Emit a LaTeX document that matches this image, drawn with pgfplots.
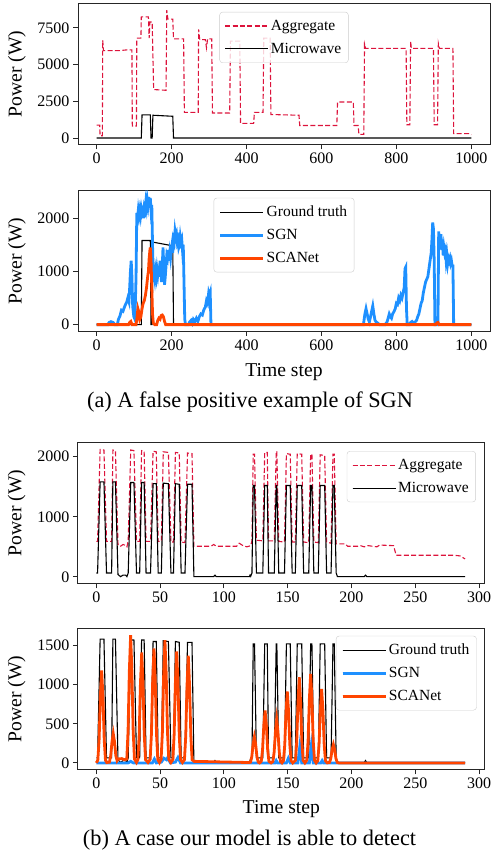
\documentclass[border=0pt]{standalone}
\usepackage{fontspec}
\setmainfont{Liberation Serif}
\usepackage{pgfplots}
\pgfplotsset{compat=1.18}
\usepackage{pgfplotstable}

\definecolor{crimson}{HTML}{DC143C}
\definecolor{dodger}{HTML}{1E90FF}
\definecolor{orangered}{HTML}{FF4500}

\pgfplotsset{
  base/.style={
    scale only axis, anchor=south west,
    tick align=outside, xtick pos=bottom, ytick pos=left,
    major tick length=5pt,
    every tick/.style={black!85, line width=0.9pt},
    axis line style={black!85, line width=0.9pt},
    tick label style={font=\fontsize{16}{19}\selectfont},
    xticklabel={\pgfmathprintnumber[assume math mode=true]{\tick}},
    yticklabel={\pgfmathprintnumber[assume math mode=true]{\tick}},
    label style={font=\fontsize{19.6}{23}\selectfont},
    /pgf/number format/assume math mode=true,
    /pgf/number format/1000 sep={},
    scaled ticks=false,
    legend style={font=\fontsize{15.5}{18}\selectfont, draw=black!20, rounded corners=3pt,
      fill=white, fill opacity=0.8, text opacity=1, draw opacity=1,
      inner xsep=5pt, inner ysep=6pt, row sep=7.2pt,
      nodes={inner sep=2pt}},
    legend cell align=left,
    legend image code/.code={\draw[#1] (0pt,0pt) -- (33pt,0pt); \path (0pt,0pt) -- (43pt,0pt);},
    ylabel={Power (W)},
  },
  aggst/.style={crimson, line width=1.1pt, dash pattern=on 5pt off 2.4pt},
  blkst/.style={black, line width=1.1pt},
  sgnst/.style={dodger, line width=2.8pt},
  scast/.style={orangered, line width=2.8pt},
}

% ---------- panel (a) ----------
\pgfplotstableread{
t p
0 880
8 880
9 150
15 150
16 6650
18 5950
60 5950
80 6000
94 6000
95 820
106 820
107 6800
118 6800
119 8250
138 8250
140 6800
142 7900
148 7900
152 3300
185 3250
187 8700
190 8100
203 8100
205 6750
232 6750
234 1750
271 1750
272 7400
275 6700
290 6700
293 6150
296 6750
307 6750
309 1700
355 1700
357 6600
382 6600
384 1000
419 1000
421 1750
444 1750
446 6800
463 6800
465 1600
540 1550
542 850
641 850
643 2450
685 2450
687 850
698 850
700 250
713 250
715 6400
718 6100
826 6100
828 900
836 900
838 6600
840 6100
899 6100
901 900
910 900
912 6450
915 6100
951 6100
953 300
995 300
1000 220
}\aggA

\pgfplotstableread{
t p
0 0
119 0
121 1580
143 1580
145 0
148 0
150 1550
203 1480
205 0
1000 0
}\micA

\pgfplotstableread{
t p
0 0
30 0
33 40
38 55
44 40
48 0
55 0
58 100
62 160
66 270
70 250
74 330
77 380
80 420
83 500
86 430
88 700
90 1000
92 1200
94 900
96 350
99 150
102 100
105 900
107 2100
109 2000
111 2150
113 2050
115 2150
117 2050
119 2180
121 2100
123 2150
125 2000
127 2200
129 2150
131 2300
133 2200
135 2350
137 2250
139 2400
141 2200
143 2380
145 2150
147 2250
149 1500
151 900
153 950
155 850
157 1000
159 900
161 1050
163 950
165 1100
167 900
169 1200
171 1000
173 800
175 1100
177 1450
179 1100
181 750
183 900
185 1100
187 1300
189 1250
191 1400
193 1200
195 1350
197 1250
199 1400
201 1500
203 1350
205 1600
207 1550
209 1750
211 1650
213 1700
215 1550
217 1600
219 1450
221 1500
223 1650
225 1550
227 1600
229 1400
231 1500
233 800
235 100
237 0
245 0
248 50
252 80
255 30
258 100
262 60
266 120
270 60
274 150
278 200
282 180
286 280
290 330
293 450
296 400
299 600
301 550
303 600
305 0
712 0
716 200
719 300
722 200
725 100
728 50
731 150
734 250
737 350
740 200
743 80
746 50
750 30
755 0
770 0
775 50
778 120
781 200
784 150
787 120
790 200
794 250
797 300
800 400
803 380
806 500
809 450
812 550
815 500
818 600
821 700
823 1050
825 1080
827 300
829 0
835 0
838 40
842 60
846 30
850 50
854 80
857 150
860 200
863 300
866 400
869 450
872 600
875 700
878 800
881 850
884 900
887 1050
890 1200
893 1350
895 1600
897 1920
899 1800
901 1200
903 0
911 0
913 1750
915 1500
917 1600
919 1700
921 1400
923 1600
925 1300
927 1450
929 1350
931 1400
933 1200
935 1300
937 1150
939 1250
941 1200
943 1250
945 1150
947 1200
949 1100
951 1100
953 0
1000 0
}\sgnA

\pgfplotstableread{
t p
0 0
85 0
88 40
91 60
94 0
105 0
107 100
110 300
112 250
115 100
118 150
121 300
124 400
127 450
130 550
133 700
136 900
138 1000
140 1250
142 1400
143 1450
145 1200
147 700
149 200
151 30
155 0
160 0
163 80
166 120
169 100
172 170
175 180
178 150
181 60
184 0
905 0
908 30
911 40
914 0
1000 0
}\scaA

% ---------- panel (b) ----------
\pgfplotstableread{
t p
0 65
1 65
3 1580
6 1580
8 65
12 65
13 1580
15 1580
17 40
19 5
21 30
23 30
24 5
25 65
27 1570
29.5 1570
31.5 65
34 65
35.5 1570
37.5 1570
39 65
42.5 65
44.5 1550
47 1550
48.5 65
51 65
52.5 1560
56.5 1550
58.5 65
60.5 65
62 1550
65 1540
66.5 65
69.5 65
71.5 1540
75 1540
76.5 5
92 5
93 30
94 5
120 5
120.5 30
121 10
122 65
123 1520
124 1520
125.5 65
130.5 65
132 1520
134 1520
135 65
139.5 65
141 1520
141.5 1520
143 65
147.5 65
149 1520
152 1520
153.5 65
156 65
157.5 1520
161 1520
162.5 65
166.5 65
168 1520
169 1520
170.5 65
174 65
175.5 1520
179 1520
180.5 65
184 65
185.5 1520
186.5 1520
188 65
189 5
210 5
211 30
212 5
289 5
}\micB

\pgfplotstableread{
t p
0 590
1 590
3 2120
6 2110
8 590
12 590
13 2110
15 2100
17 540
19 510
21 540
23 520
24 500
25 600
27 2110
29.5 2100
31.5 590
34 590
35.5 2100
37.5 2090
39 590
42.5 590
44.5 2090
47 2080
48.5 590
51 590
52.5 2080
56.5 2070
58.5 580
60.5 580
62 2070
65 2060
66.5 580
69.5 570
71.5 2060
75 2050
76.5 510
90 510
92 540
94 510
110 510
112 560
115 520
118 500
121 520
122 600
123 2040
124 2040
125.5 610
130.5 600
132 2070
134 2070
135 600
139.5 600
141 2090
141.5 2080
143 590
147.5 580
149 2050
152 2040
153.5 580
156 580
157.5 2050
161 2040
162.5 580
166.5 570
168 2040
169 2040
170.5 580
174 570
175.5 2030
179 2020
180.5 580
184 560
185.5 2040
186.5 2040
188 550
195 550
197 510
205 510
207 520
210 500
213 520
220 500
222 530
233 520
235 360
280 360
285 350
289 300
}\aggB

\pgfplotstableread{
t p
0 0
25 0
27 20
29 0
44 0
45.5 50
47 0
51 10
53 60
55 40
56 70
58 0
62 10
64 70
66 0
140 0
141 30
142 0
149 0
150.5 60
152 0
158 0
159.5 210
161 0
167 0
168.5 220
170 0
176 0
177 30
178 0
289 0
}\sgnB

\pgfplotstableread{
t p
0 0
1.2 35
2.2 295
3.2 850
4.2 1180
5.2 850
6.2 295
7.2 35
8.2 5
10.3 10
11.3 93
12.3 270
13.3 373
14.3 270
15.3 93
16.3 30
17 50
20 55
22 40
23.9 50
24.9 408
25.9 1174
26.9 1631
27.9 1174
28.9 408
29.9 49
31.5 5
32.6 42
33.6 353
34.6 1016
35.6 1411
36.6 1016
37.6 353
38.6 42
40.5 5
42.2 44
43.2 366
44.2 1053
45.2 1462
46.2 1053
47.2 366
48.2 44
49.5 5
50.8 47
51.8 392
52.8 1129
53.8 1568
54.8 1129
55.8 392
56.8 47
58.5 5
60 43
61 356
62 1025
63 1424
64 1025
65 356
66 43
67.5 5
69.1 41
70.1 342
71.1 986
72.1 1369
73.1 986
74.1 342
75.1 41
76.5 20
120 5
120.9 10
121.9 83
122.9 238
123.9 330
124.9 238
125.9 83
126.9 10
128 0
129.3 20
130.3 168
131.3 482
132.3 670
133.3 482
134.3 168
135.3 20
137 0
138.4 17
139.4 138
140.4 397
141.4 551
142.4 397
143.4 138
144.4 17
145.5 0
146.7 27
147.7 228
148.7 656
149.7 911
150.7 656
151.7 228
152.7 27
154 0
156.1 33
157.1 273
158.1 787
159.1 1093
160.1 787
161.1 273
162.1 33
163.5 0
165 34
166 284
167 817
168 1135
169 817
170 284
171 34
172.3 0
173.6 28
174.6 236
175.6 680
176.6 945
177.6 680
178.6 236
179.6 28
181 0
182.8 7
183.8 58
184.8 168
185.8 233
186.8 168
187.8 58
188.8 7
190 0
289 0
}\scaB

\begin{document}
\begin{tikzpicture}
\useasboundingbox (0pt,0pt) rectangle (490pt,853pt);

% Panel 1
\begin{axis}[base, at={(78pt,708.6pt)}, width=412pt, height=140.5pt,
  xmin=-50, xmax=1050, ymin=-435, ymax=9135,
  xtick={0,200,400,600,800,1000}, ytick={0,2500,5000,7500},
  ylabel style={at={(axis description cs:-0.148,0.5)}, anchor=center},
  legend style={at={(0.5,0.943)}, anchor=north}]
\addplot[aggst] table[x=t,y=p] {\aggA};
\addlegendentry{Aggregate}
\addplot[blkst] table[x=t,y=p] {\micA};
\addlegendentry{Microwave}
\end{axis}

% Panel 2
\begin{axis}[base, at={(78pt,522pt)}, width=412pt, height=140.5pt,
  xmin=-50, xmax=1050, ymin=-120, ymax=2520,
  xtick={0,200,400,600,800,1000}, ytick={0,1000,2000},
  ylabel style={at={(axis description cs:-0.148,0.5)}, anchor=center},
  xlabel={Time step},
  xlabel style={at={(axis description cs:0.5,-0.29)}, anchor=center},
  legend style={at={(0.5,0.948)}, anchor=north}]
\addplot[blkst] table[x=t,y=p] {\micA};
\addlegendentry{Ground truth}
\addplot[sgnst] table[x=t,y=p] {\sgnA};
\addlegendentry{SGN}
\addplot[scast] table[x=t,y=p] {\scaA};
\addlegendentry{SCANet}
\end{axis}

\node[font=\fontsize{22.3}{26}\selectfont] at (250pt,451.3pt) {(a) A false positive example of SGN};

% Panel 3
\begin{axis}[base, at={(77.8pt,269.7pt)}, width=407pt, height=140.5pt,
  xmin=-14.5, xmax=304.5, ymin=-106, ymax=2230,
  xtick={0,50,100,150,200,250,300}, ytick={0,1000,2000},
  ylabel style={at={(axis description cs:-0.15,0.5)}, anchor=center},
  legend style={at={(0.978,0.941)}, anchor=north east}]
\addplot[aggst] table[x=t,y=p] {\aggB};
\addlegendentry{Aggregate}
\addplot[blkst] table[x=t,y=p] {\micB};
\addlegendentry{Microwave}
\end{axis}

% Panel 4
\begin{axis}[base, at={(77.8pt,83.7pt)}, width=407pt, height=140.5pt,
  xmin=-14.5, xmax=304.5, ymin=-81.5, ymax=1712.5,
  xtick={0,50,100,150,200,250,300}, ytick={0,500,1000,1500},
  ylabel style={at={(axis description cs:-0.15,0.5)}, anchor=center},
  xlabel={Time step},
  xlabel style={at={(axis description cs:0.5,-0.283)}, anchor=center},
  legend style={at={(0.98,0.95)}, anchor=north east}]
\addplot[blkst] table[x=t,y=p] {\micB};
\addlegendentry{Ground truth}
\addplot[sgnst] table[x=t,y=p] {\sgnB};
\addlegendentry{SGN}
\addplot[scast] table[x=t,y=p] {\scaB};
\addlegendentry{SCANet}
\end{axis}

\node[font=\fontsize{22.3}{26}\selectfont] at (249.5pt,13pt) {(b) A case our model is able to detect};
\end{tikzpicture}
\end{document}
